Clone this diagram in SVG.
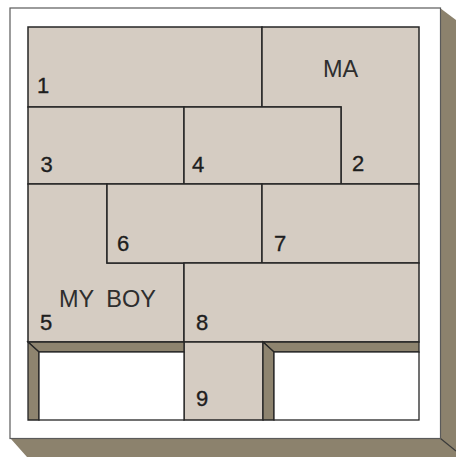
<svg xmlns="http://www.w3.org/2000/svg" width="456" height="457" viewBox="0 0 456 457">
<style>
.panel{fill:#d5ccc2;stroke:#262626;stroke-width:1.5;stroke-linejoin:miter}
.shade{fill:#8e846f;stroke:#262626;stroke-width:1.3}
.hole{fill:#ffffff;stroke:#262626;stroke-width:1.3}
.num{font-family:"Liberation Sans",Arial,sans-serif;font-size:22px;fill:#1e1e1e;stroke:#1e1e1e;stroke-width:0.35}
.word{font-family:"Liberation Sans",Arial,sans-serif;font-size:23.5px;fill:#2e2e2e}
</style>
<rect width="456" height="457" fill="#ffffff"/>
<g id="box-depth">
<polygon points="440,8 456,20 456,457 27,457 11,439 440,439" fill="#8c826d"/>
<line x1="440.5" y1="438.5" x2="456" y2="451" stroke="#3a3a3a" stroke-width="1.2"/>
</g>
<g id="frame">
<rect x="10" y="8" width="430.5" height="430.5" fill="#ffffff" stroke="#5a5a5a" stroke-width="1.2"/>
</g>
<g id="piece-1">
<rect class="panel" x="28" y="27" width="234" height="80"/>
<text class="num" x="37" y="93">1</text>
</g>
<g id="piece-2">
<polygon class="panel" points="262,27 419,27 419,184 341,184 341,107 262,107"/>
<text class="word" x="323" y="76.5">MA</text>
<text class="num" x="352" y="171">2</text>
</g>
<g id="piece-3">
<rect class="panel" x="28" y="107" width="156" height="77"/>
<text class="num" x="40.5" y="172">3</text>
</g>
<g id="piece-4">
<rect class="panel" x="184" y="107" width="157" height="77"/>
<text class="num" x="192" y="172">4</text>
</g>
<g id="piece-5">
<polygon class="panel" points="28,184 107,184 107,263 184,263 184,342 28,342"/>
<text class="word" x="59" y="307" word-spacing="6">MY BOY</text>
<text class="num" x="40" y="330">5</text>
</g>
<g id="piece-6">
<rect class="panel" x="107" y="184" width="155" height="79"/>
<text class="num" x="117" y="251">6</text>
</g>
<g id="piece-7">
<rect class="panel" x="262" y="184" width="157" height="79"/>
<text class="num" x="274" y="251">7</text>
</g>
<g id="piece-8">
<rect class="panel" x="184" y="263" width="235" height="79"/>
<text class="num" x="196" y="330">8</text>
</g>
<g id="piece-9">
<rect class="panel" x="184" y="342" width="79" height="78"/>
<text class="num" x="196" y="406">9</text>
</g>
<g id="opening-left">
<polygon class="shade" points="28,342 184,342 184,352 39,352"/>
<polygon class="shade" points="28,342 39,352 39,420 28,420"/>
<rect class="hole" x="39" y="352" width="145" height="68"/>
</g>
<g id="opening-right">
<polygon class="shade" points="263,342 419,342 419,352 274,352"/>
<polygon class="shade" points="263,342 274,352 274,420 263,420"/>
<rect class="hole" x="274" y="352" width="145" height="68"/>
</g>
</svg>
